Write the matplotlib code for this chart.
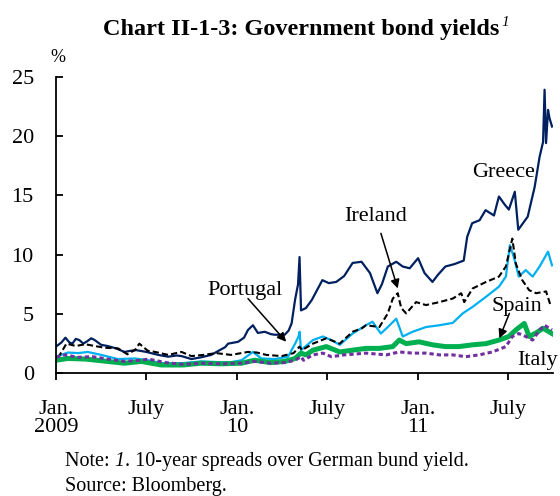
import matplotlib
matplotlib.use("Agg")
import matplotlib.pyplot as plt
import pandas as pd

plt.rcParams["font.family"] = ["Liberation Serif", "DejaVu Serif"]

# spreads over German bund, %
greece_dates = ["2009-01-01", "2009-01-12", "2009-01-20", "2009-01-28", "2009-02-03", "2009-02-10",
                "2009-02-17", "2009-02-25", "2009-03-05", "2009-03-13", "2009-03-20", "2009-04-02",
                "2009-04-15", "2009-05-02", "2009-05-19", "2009-06-01", "2009-06-12", "2009-07-02",
                "2009-07-26", "2009-08-15", "2009-09-01", "2009-09-11", "2009-10-01", "2009-10-21",
                "2009-11-10", "2009-11-27", "2009-12-08", "2009-12-14", "2010-01-03", "2010-01-15",
                "2010-01-23", "2010-02-02", "2010-02-12", "2010-02-26", "2010-03-10", "2010-03-18",
                "2010-04-07", "2010-04-15", "2010-04-21", "2010-04-28", "2010-05-04", "2010-05-07",
                "2010-05-10", "2010-05-20", "2010-06-01", "2010-06-15", "2010-06-22", "2010-07-05",
                "2010-07-20", "2010-08-05", "2010-08-22", "2010-09-09", "2010-09-26", "2010-10-11",
                "2010-10-20", "2010-11-01", "2010-11-18", "2010-12-01", "2010-12-15", "2011-01-01",
                "2011-01-14", "2011-01-30", "2011-02-10", "2011-02-25", "2011-03-15", "2011-04-03",
                "2011-04-10", "2011-04-20", "2011-05-05", "2011-05-17", "2011-06-03", "2011-06-13",
                "2011-06-25", "2011-07-03", "2011-07-15", "2011-07-22", "2011-08-10", "2011-08-24",
                "2011-09-03", "2011-09-10", "2011-09-13", "2011-09-16", "2011-09-20", "2011-09-23",
                "2011-09-28"]
greece = [2.25, 2.6, 3.0, 2.6, 2.5, 2.9,
          2.8, 2.5, 2.7, 2.95, 2.8, 2.4,
          2.3, 2.1, 1.8, 1.9, 1.95, 1.8,
          1.55, 1.4, 1.5, 1.45, 1.2, 1.35,
          1.55, 1.95, 2.2, 2.5, 2.65, 3.0,
          3.65, 4.05, 3.4, 3.5, 3.3, 3.25,
          3.25, 3.6, 4.2, 6.2, 7.5, 9.8,
          5.3, 5.5, 6.2, 7.3, 7.85, 7.6,
          7.7, 8.2, 9.3, 9.4, 8.45, 6.75,
          7.5, 9.0, 9.4, 9.0, 8.85, 9.7,
          8.45, 7.7, 8.3, 9.0, 9.2, 9.5,
          11.5, 12.65, 12.9, 13.75, 13.3, 14.9,
          14.2, 13.8, 15.3, 12.1, 13.2, 15.7,
          18.25, 19.5, 23.9, 19.4, 22.2, 21.5,
          20.8]

ireland_dates = ["2009-01-05", "2009-01-15", "2009-01-22", "2009-02-10", "2009-03-01", "2009-03-20",
                 "2009-04-10", "2009-05-06", "2009-05-25", "2009-06-10", "2009-06-18", "2009-07-05",
                 "2009-07-20", "2009-08-15", "2009-09-11", "2009-10-01", "2009-10-25", "2009-11-20",
                 "2009-12-20", "2010-01-23", "2010-02-10", "2010-03-01", "2010-04-01", "2010-04-25",
                 "2010-05-07", "2010-05-12", "2010-06-03", "2010-06-30", "2010-07-27", "2010-08-22",
                 "2010-09-10", "2010-09-18", "2010-10-15", "2010-11-01", "2010-11-11", "2010-11-21",
                 "2010-11-28", "2010-12-08", "2010-12-28", "2011-01-17", "2011-02-13", "2011-03-12",
                 "2011-03-29", "2011-04-04", "2011-04-21", "2011-05-18", "2011-06-13", "2011-06-27",
                 "2011-07-10", "2011-07-17", "2011-07-30", "2011-08-13", "2011-08-27", "2011-09-16",
                 "2011-09-26"]
ireland = [1.3, 2.0, 2.5, 2.3, 2.45, 2.3,
           2.15, 2.1, 1.6, 2.0, 2.5, 1.9,
           1.8, 1.55, 1.8, 1.45, 1.55, 1.7,
           1.55, 1.8, 1.75, 1.55, 1.45, 1.7,
           2.25, 1.95, 2.5, 2.95, 2.5, 3.5,
           3.8, 4.05, 3.9, 5.05, 6.3, 6.75,
           5.5, 5.05, 6.0, 5.75, 6.0, 6.3,
           6.75, 6.0, 7.15, 7.7, 8.15, 9.0,
           11.35, 9.25, 7.85, 7.0, 6.75, 6.9,
           5.6]

portugal_dates = ["2009-01-01", "2009-01-15", "2009-01-25", "2009-02-15", "2009-03-06", "2009-04-02",
                  "2009-05-06", "2009-06-09", "2009-07-06", "2009-08-02", "2009-09-11", "2009-10-21",
                  "2009-11-20", "2009-12-15", "2010-01-10", "2010-02-02", "2010-02-19", "2010-03-18",
                  "2010-04-14", "2010-04-28", "2010-05-05", "2010-05-07", "2010-05-10", "2010-06-03",
                  "2010-06-23", "2010-07-10", "2010-07-27", "2010-08-22", "2010-09-18", "2010-10-01",
                  "2010-10-18", "2010-11-01", "2010-11-18", "2010-12-01", "2010-12-21", "2011-01-17",
                  "2011-02-13", "2011-03-12", "2011-04-01", "2011-04-21", "2011-05-18", "2011-06-13",
                  "2011-06-27", "2011-07-05", "2011-07-13", "2011-07-23", "2011-08-06", "2011-08-20",
                  "2011-09-03", "2011-09-20", "2011-09-28"]
portugal = [1.4, 1.6, 1.75, 1.7, 1.8, 1.55,
            1.2, 1.25, 1.1, 0.85, 0.85, 1.0,
            0.95, 0.9, 1.1, 1.8, 1.25, 1.2,
            1.4, 2.5, 3.1, 3.5, 1.95, 2.8,
            3.1, 2.8, 2.4, 3.35, 4.05, 4.35,
            3.35, 3.9, 4.6, 3.1, 3.5, 3.9,
            4.05, 4.25, 5.05, 5.6, 6.45, 7.3,
            8.15, 10.8, 9.8, 8.15, 8.7, 8.15,
            9.0, 10.25, 9.1]

spain_dates = ["2009-01-01", "2009-01-25", "2009-03-01", "2009-04-15", "2009-05-19", "2009-06-22",
               "2009-08-01", "2009-09-15", "2009-10-20", "2009-12-01", "2010-01-10", "2010-02-05",
               "2010-03-10", "2010-04-07", "2010-04-28", "2010-05-10", "2010-05-20", "2010-06-03",
               "2010-06-30", "2010-07-27", "2010-08-22", "2010-09-18", "2010-10-15", "2010-11-11",
               "2010-11-24", "2010-12-08", "2011-01-03", "2011-01-30", "2011-02-25", "2011-03-24",
               "2011-04-21", "2011-05-18", "2011-06-13", "2011-07-03", "2011-07-17", "2011-08-03",
               "2011-08-13", "2011-08-27", "2011-09-10", "2011-09-28"]
spain = [1.1, 1.25, 1.2, 1.0, 0.85, 1.0,
         0.7, 0.7, 0.85, 0.8, 0.85, 1.1,
         0.9, 1.0, 1.25, 1.7, 1.55, 1.95,
         2.25, 1.8, 1.95, 2.1, 2.1, 2.25,
         2.8, 2.5, 2.65, 2.4, 2.25, 2.25,
         2.4, 2.5, 2.8, 3.1, 3.65, 4.2,
         3.1, 3.4, 3.8, 3.35]

italy_dates = ["2009-01-01", "2009-01-18", "2009-02-15", "2009-03-15", "2009-04-15", "2009-05-19",
               "2009-06-22", "2009-07-06", "2009-08-10", "2009-09-15", "2009-10-20", "2009-12-01",
               "2010-01-10", "2010-02-05", "2010-03-10", "2010-04-07", "2010-04-28", "2010-05-10",
               "2010-05-15", "2010-06-03", "2010-06-23", "2010-07-10", "2010-08-05", "2010-09-18",
               "2010-10-29", "2010-11-24", "2010-12-21", "2011-01-17", "2011-02-13", "2011-03-12",
               "2011-04-07", "2011-05-04", "2011-05-31", "2011-06-27", "2011-07-10", "2011-07-23",
               "2011-08-06", "2011-08-20", "2011-09-03", "2011-09-13", "2011-09-28"]
italy = [1.35, 1.55, 1.35, 1.4, 1.2, 1.0,
         1.1, 1.2, 0.9, 0.75, 0.85, 0.8,
         0.85, 1.0, 0.85, 0.9, 1.1, 1.4,
         1.1, 1.55, 1.7, 1.4, 1.55, 1.7,
         1.55, 1.8, 1.7, 1.7, 1.55, 1.55,
         1.4, 1.55, 1.8, 2.25, 3.1, 3.35,
         3.1, 2.8, 3.65, 4.05, 3.65]

tick_dates = ["2009-01-01", "2009-07-01", "2010-01-01", "2010-07-01", "2011-01-01", "2011-07-01"]
tick_labels = ["Jan.\n2009", "July", "Jan.\n10", "July", "Jan.\n11", "July"]

fig = plt.figure(figsize=(5.6, 4.96), dpi=100)
ax = fig.add_axes([0.1, 0.2474, 0.8875, 0.598])

d = pd.to_datetime
ax.plot(d(greece_dates), greece, color="#002060", lw=1.6)
ax.plot(d(portugal_dates), portugal, color="#00B0F0", lw=1.6)
ax.plot(d(ireland_dates), ireland, color="black", lw=1.5, dashes=(3, 1.5))
ax.plot(d(spain_dates), spain, color="#00B050", lw=3.6)
ax.plot(d(italy_dates), italy, color="#7030A0", lw=2.2, dashes=(1.4, 1.0))

ax.set_xlim(d("2009-01-01"), d("2011-09-30"))
ax.set_ylim(0, 25)
ax.set_yticks([0, 5, 10, 15, 20, 25])
ax.set_xticks(d(tick_dates))
ax.set_xticklabels(tick_labels, linespacing=0.95)

for s in ["top", "right"]:
    ax.spines[s].set_visible(False)
ax.spines["left"].set_linewidth(1.3)
ax.spines["bottom"].set_linewidth(1.3)
ax.tick_params(axis="y", direction="in", length=5, width=1.3, pad=16, labelsize=16)
ax.tick_params(axis="x", direction="out", length=5, width=1.3, pad=14, labelsize=16)

fig.text(0.1036, 0.885, "%", fontsize=13, ha="center", va="center")

lab = dict(fontsize=16, ha="center", va="center")
ax.text(d("2011-06-22"), 16.96, "Greece", **lab)
ax.text(d("2010-10-07"), 13.25, "Ireland", **lab)
ax.text(d("2010-01-17"), 7.0, "Portugal", **lab)
ax.text(d("2011-07-20"), 5.6, "Spain", **lab)
ax.text(d("2011-08-29"), 1.12, "Italy", **lab)

arw = dict(arrowstyle="-|>", color="black", lw=1.1, mutation_scale=13, shrinkA=0, shrinkB=0)
ax.annotate("", xy=(d("2010-11-21"), 7.15), xytext=(d("2010-10-18"), 11.8), arrowprops=arw)
ax.annotate("", xy=(d("2010-04-10"), 2.66), xytext=(d("2010-01-23"), 6.3), arrowprops=arw)
ax.annotate("", xy=(d("2011-06-14"), 2.95), xytext=(d("2011-07-04"), 5.05), arrowprops=arw)

# title and note, with the italic footnote mark placed after the measured text
title = fig.text(0.184, 0.94, "Chart II-1-3: Government bond yields",
                 fontsize=17.5, fontweight="bold", ha="left", va="center")
note = fig.text(0.116, 0.069, "Note: ", fontsize=14.5, ha="left", va="center")
fig.text(0.116, 0.02, "Source: Bloomberg.", fontsize=14.5, ha="left", va="center")

fig.canvas.draw()
r = fig.canvas.get_renderer()
bb = title.get_window_extent(r).transformed(fig.transFigure.inverted())
fig.text(bb.x1 + 0.003, 0.955, "1", fontsize=11, style="italic", ha="left", va="center")
bb = note.get_window_extent(r).transformed(fig.transFigure.inverted())
one = fig.text(bb.x1, 0.069, "1", fontsize=14.5, style="italic", ha="left", va="center")
bb = one.get_window_extent(r).transformed(fig.transFigure.inverted())
fig.text(bb.x1, 0.069, ". 10-year spreads over German bund yield.", fontsize=14.5,
         ha="left", va="center")

fig.savefig("out.png", dpi=100)
